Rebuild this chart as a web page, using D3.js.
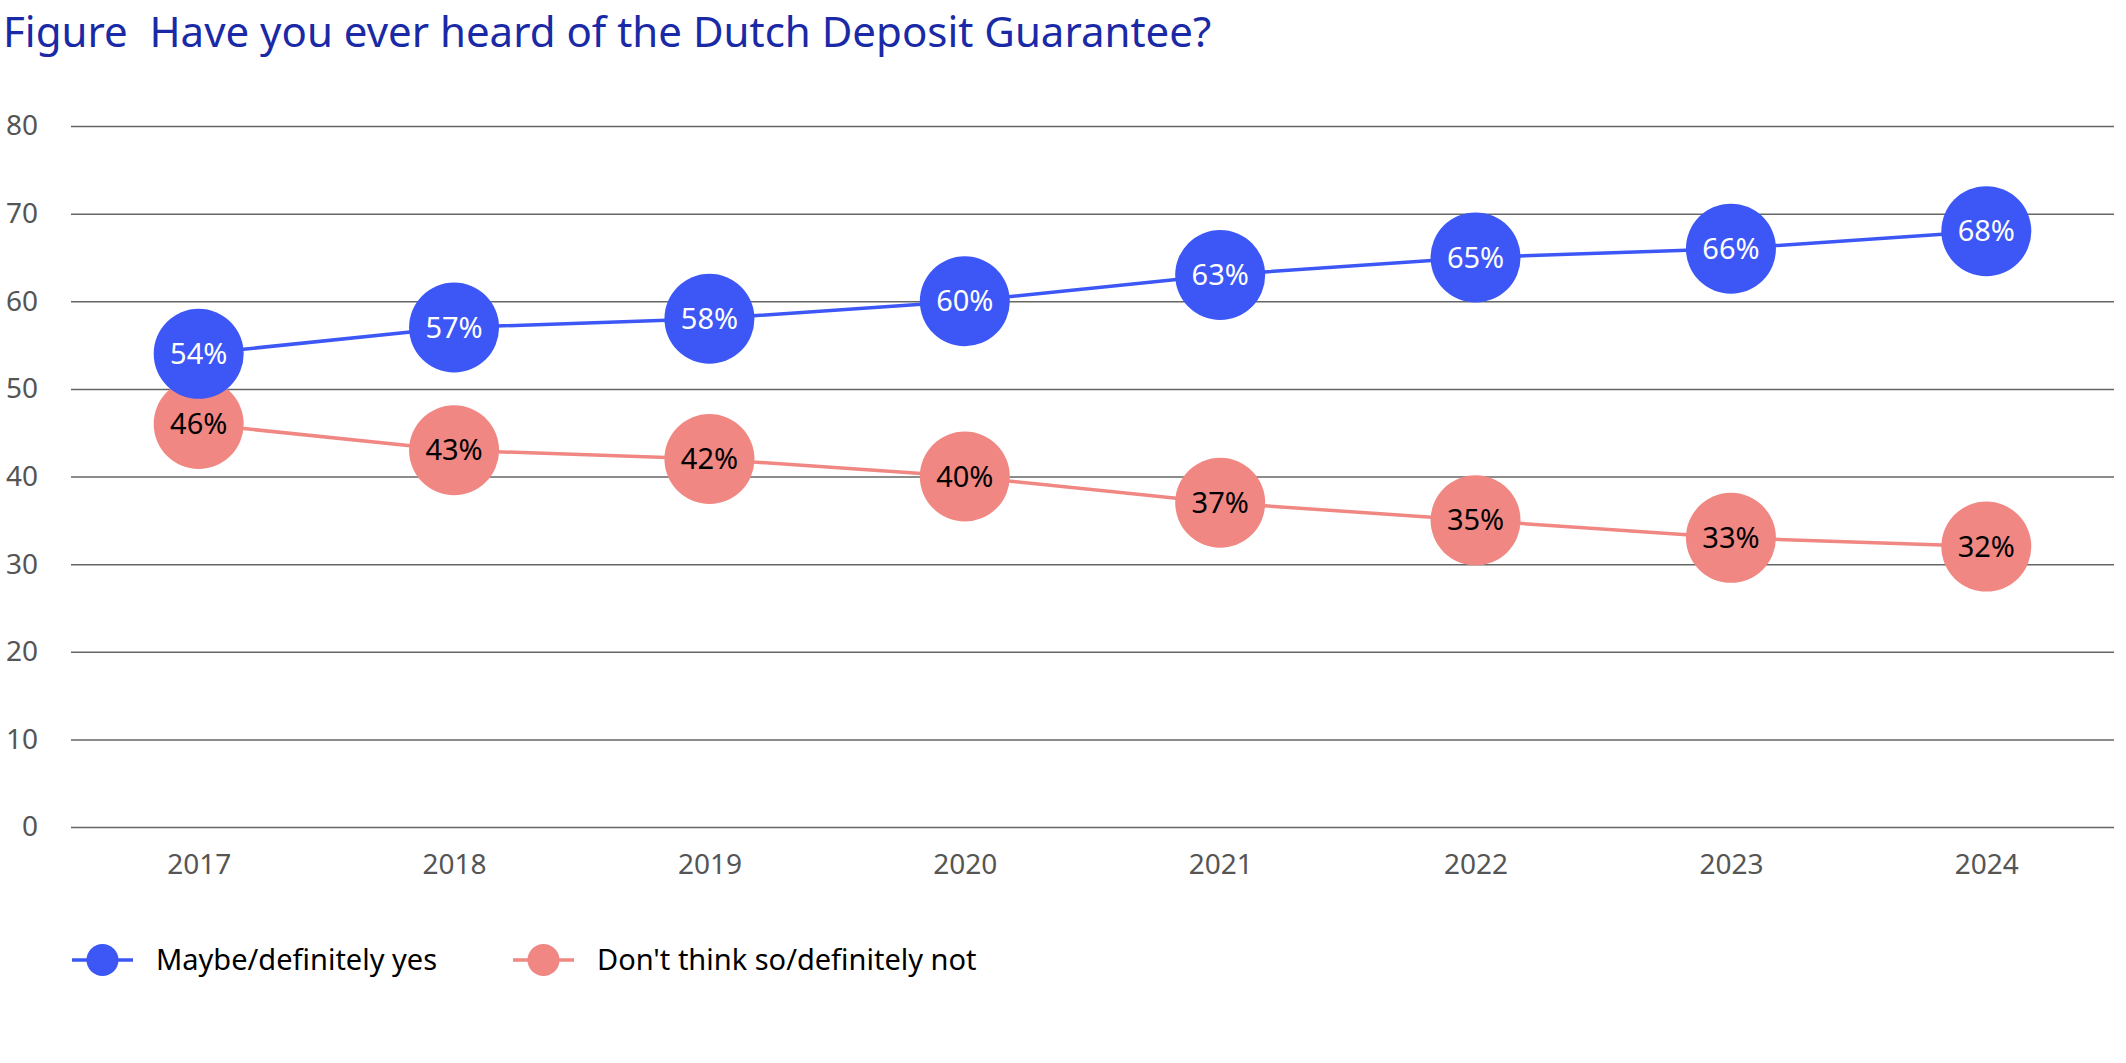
<html>
<head>
<meta charset="utf-8">
<style>
  body { margin: 0; background: #fff; }
  text { font-family: "Noto Sans", sans-serif; }
</style>
</head>
<body>
<svg id="chart"></svg>
<script src="https://d3js.org/d3.v7.min.js"></script>
<script>
var years = ["2017", "2018", "2019", "2020", "2021", "2022", "2023", "2024"]
var yesValues = [54, 57, 58, 60, 63, 65, 66, 68]
var noValues = [46, 43, 42, 40, 37, 35, 33, 32]
var yTicks = [0, 10, 20, 30, 40, 50, 60, 70, 80]
var seriesNames = ["Maybe/definitely yes", "Don't think so/definitely not"]

var screen = {width: 2126, height: 1063}
var plot = {left: 71, right: 2114, top: 126, bottom: 827}
var blue = "#3c57f6", pink = "#f08783"

var svg = d3.select("#chart")
    .attr("width", screen.width)
    .attr("height", screen.height)

svg.append("text")
    .attr("x", 3)
    .attr("y", 47)
    .attr("fill", "#1a2aa6")
    .style("font-size", "42px")
    .style("white-space", "pre")
    .text("Figure  Have you ever heard of the Dutch Deposit Guarantee?")

var xScale = d3.scalePoint()
    .domain(years)
    .range([plot.left, plot.right])
    .padding(0.5)

var yScale = d3.scaleLinear()
    .domain([0, 80])
    .range([plot.bottom, plot.top])

// gridlines + y labels
var yAxis = d3.axisLeft(yScale)
    .tickValues(yTicks)
    .tickSize(-(plot.right - plot.left))
    .tickPadding(33)
var gy = svg.append("g")
    .attr("transform", "translate(" + plot.left + ",0)")
    .call(yAxis)
gy.select(".domain").remove()
gy.selectAll("line").attr("stroke", "#666").attr("stroke-width", 1.5)
gy.selectAll("text").attr("fill", "#555").style("font-size", "28px").style("font-family", "Noto Sans")

var xAxis = d3.axisBottom(xScale).tickSize(0).tickPadding(27)
var gx = svg.append("g")
    .attr("transform", "translate(0," + plot.bottom + ")")
    .call(xAxis)
gx.select(".domain").remove()
gx.selectAll("text").attr("fill", "#555").style("font-size", "28px").style("font-family", "Noto Sans")

var series = [
    {name: seriesNames[0], values: yesValues, color: blue, textColor: "#fff"},
    {name: seriesNames[1], values: noValues, color: pink, textColor: "#000"}
]

var line = d3.line()
    .x(function(d, i){ return xScale(years[i]) })
    .y(function(d){ return yScale(d) })

// draw no-series first so blue sits on top
series.slice().reverse().forEach(function(s){
    svg.append("path")
        .datum(s.values)
        .attr("fill", "none")
        .attr("stroke", s.color)
        .attr("stroke-width", 3.5)
        .attr("d", line)
})
series.slice().reverse().forEach(function(s){
    var g = svg.append("g")
    g.selectAll("circle")
        .data(s.values)
        .enter()
        .append("circle")
        .attr("cx", function(d, i){ return xScale(years[i]) })
        .attr("cy", function(d){ return yScale(d) })
        .attr("r", 45)
        .attr("fill", s.color)
    g.selectAll("text")
        .data(s.values)
        .enter()
        .append("text")
        .attr("x", function(d, i){ return xScale(years[i]) })
        .attr("y", function(d){ return yScale(d) })
        .attr("dy", "0.35em")
        .attr("text-anchor", "middle")
        .attr("fill", s.textColor)
        .style("font-size", "29px")
        .text(function(d){ return d + "%" })
})

// legend
var legendX = [72, 513]
var legend = svg.append("g").attr("transform", "translate(0,960)")
series.forEach(function(s, i){
    var lg = legend.append("g").attr("transform", "translate(" + legendX[i] + ",0)")
    lg.append("line")
        .attr("x1", 0).attr("x2", 61)
        .attr("stroke", s.color).attr("stroke-width", 3.5)
    lg.append("circle")
        .attr("cx", 30.5).attr("r", 16)
        .attr("fill", s.color)
    lg.append("text")
        .attr("x", 84)
        .attr("dy", "0.35em")
        .attr("fill", "#000")
        .style("font-size", "29px")
        .text(s.name)
})
</script>
</body>
</html>
